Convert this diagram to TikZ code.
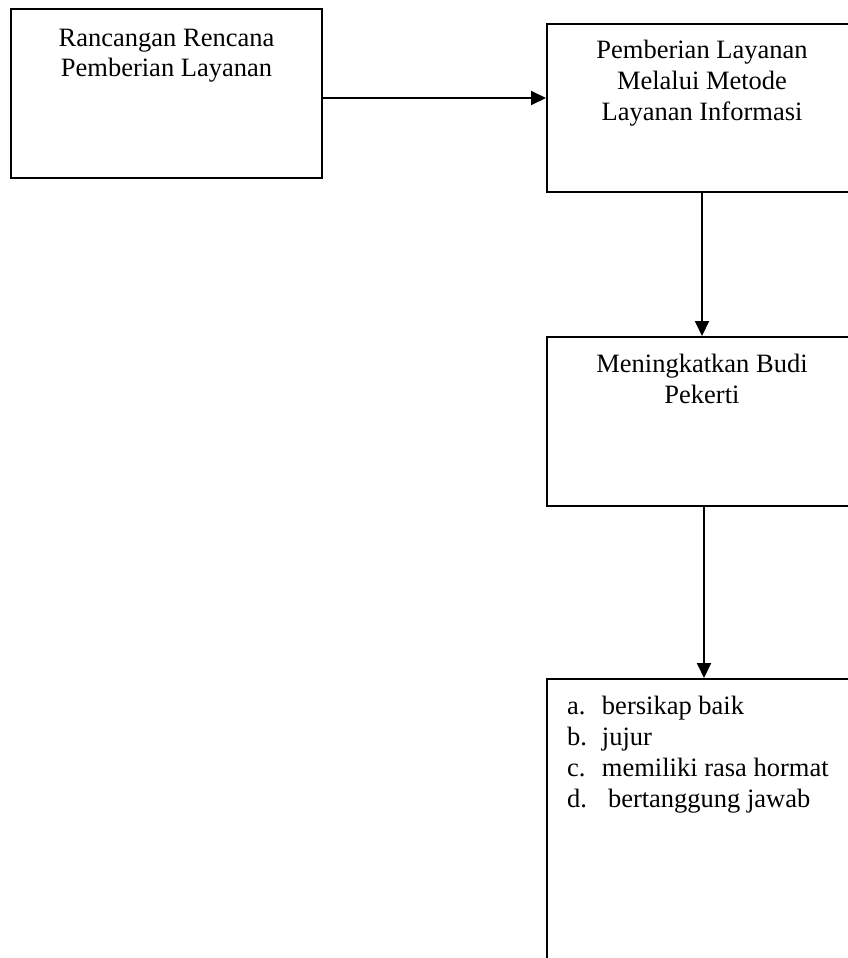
\documentclass[tikz,border=0pt]{standalone}
\usepackage{fontspec}
\setmainfont{Liberation Serif}
\usepackage{tikz}
\usetikzlibrary{arrows.meta}

\begin{document}
\begin{tikzpicture}[x=1pt,y=-1pt, line width=2pt,
		font=\fontsize{26.5}{30.7}\selectfont]
		\useasboundingbox (0,0) rectangle (848,958);
		\clip (0,0) rectangle (848,958);
		\begin{scope}[every node/.style={rectangle,draw,line width=2pt,inner sep=0pt}]
			\node (box1) at (166.5,93.5) [minimum width=311pt,minimum height=169pt] {};
			\node (box2) at (702,108) [minimum width=310pt,minimum height=168pt] {};
			\node (box3) at (702,421.5) [minimum width=310pt,minimum height=169pt] {};
			\node (box4) at (702,829) [minimum width=310pt,minimum height=300pt] {};
		\end{scope}
		% base = baseline of the last line
		\begin{scope}[every node/.style={anchor=base,inner sep=0pt}]
			\node (txt1) at ([yshift=-69pt]box1.north) [align=center] {Rancangan Rencana\\Pemberian Layanan};
			\node (txt2) at ([yshift=-97pt]box2.north) [align=center] {Pemberian Layanan\\Melalui Metode\\Layanan Informasi};
			\node (txt3) at ([yshift=-67pt]box3.north) [align=center] {Meningkatkan Budi\\Pekerti};
			\node (txt4) at ([xshift=20pt,yshift=-129pt]box4.north west) [anchor=base west,align=left]
				{\makebox[35pt][l]{a.}bersikap baik\\\makebox[35pt][l]{b.}jujur\\
				 \makebox[35pt][l]{c.}memiliki rasa hormat\\\makebox[41pt][l]{d.}bertanggung jawab};
		\end{scope}

		\begin{scope}[every edge/.style={draw,line width=2pt,-{Triangle[length=15pt,width=14pt]}}]
			\path ([yshift=-4.5pt]box1.east) edge ([yshift=-4.5pt]box1.east -| box2.west);
			\path (box2) edge (box3);
			\path ([xshift=2pt]box3.south) edge ([xshift=2pt]box4.north);
		\end{scope}
	\end{tikzpicture}
\end{document}
